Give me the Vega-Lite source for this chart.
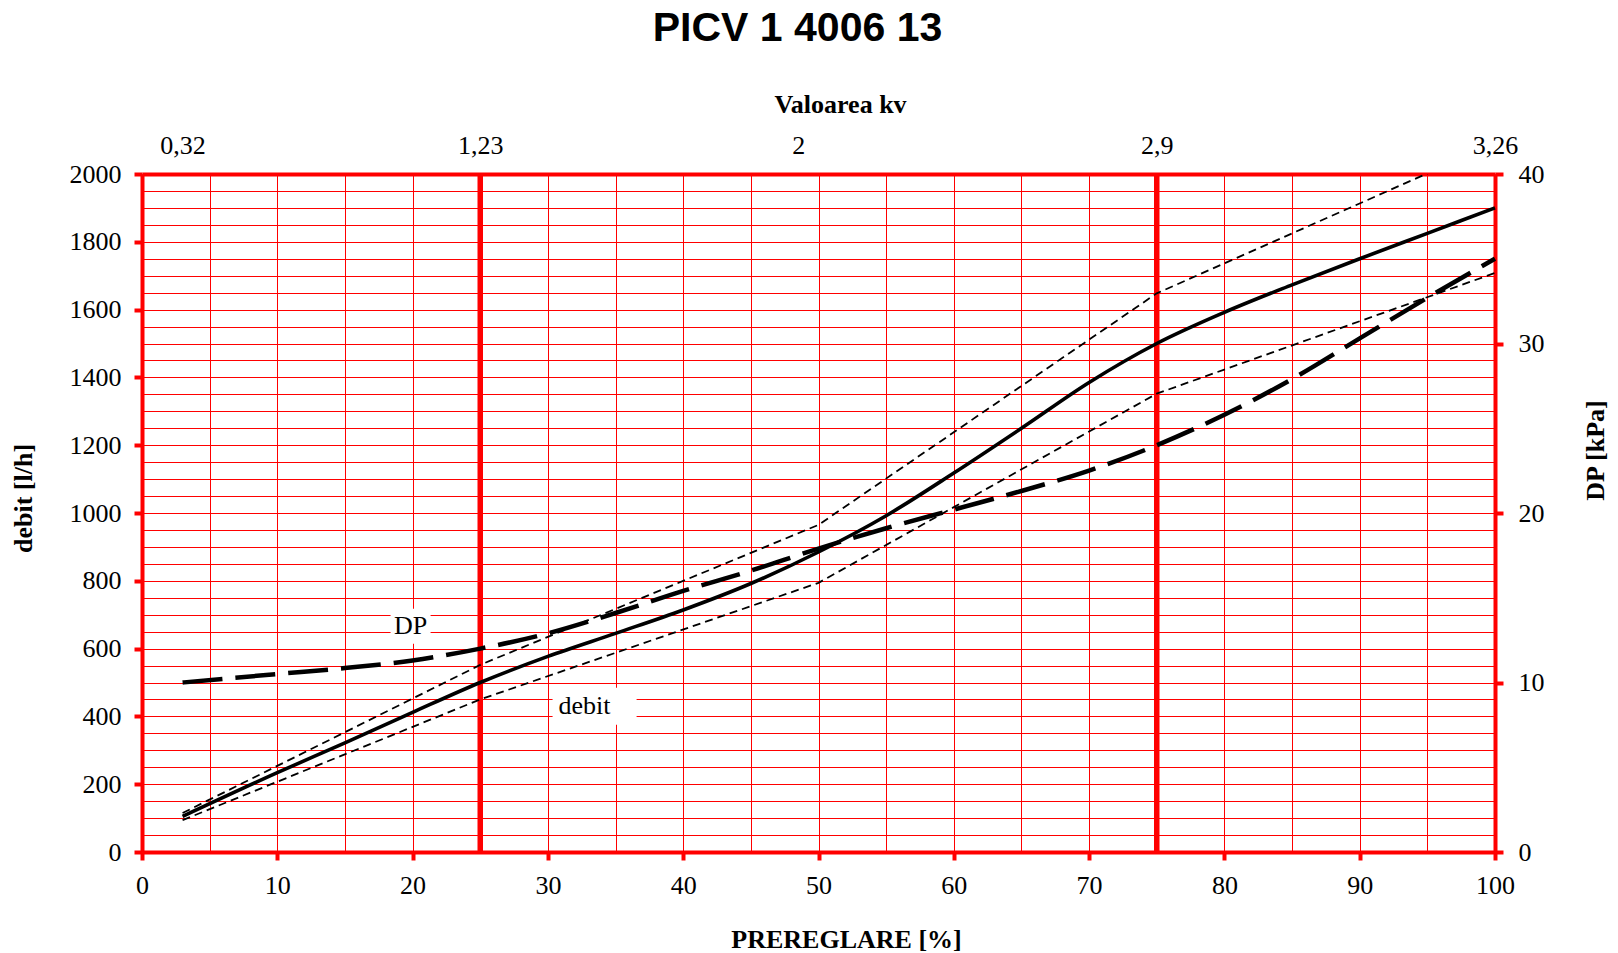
{
  "$schema": "https://vega.github.io/schema/vega-lite/v6.json",
  "width": 1353,
  "height": 678,
  "autosize": {"type": "none"},
  "padding": {"left": 142, "top": 174, "right": 123, "bottom": 101},
  "background": "white",
  "config": {
    "view": {"stroke": null},
    "font": "Liberation Serif",
    "axis": {
      "labelFont": "Liberation Serif",
      "labelFontSize": 26,
      "labelColor": "black",
      "labelOverlap": false,
      "labelFlush": false,
      "labelBound": false,
      "titleFont": "Liberation Serif",
      "titleFontSize": 26,
      "titleFontWeight": "bold",
      "titleColor": "black",
      "domainColor": "#ff0000",
      "domainWidth": 4,
      "tickColor": "#ff0000",
      "tickWidth": 4,
      "tickSize": 8
    }
  },
  "datasets": {
    "debit": [
      {"p": 3, "q": 105}, {"p": 10, "q": 234}, {"p": 15, "q": 322}, {"p": 20, "q": 412},
      {"p": 25, "q": 500}, {"p": 30, "q": 577}, {"p": 35, "q": 645}, {"p": 40, "q": 714},
      {"p": 45, "q": 792}, {"p": 50, "q": 885}, {"p": 55, "q": 992}, {"p": 60, "q": 1118},
      {"p": 65, "q": 1250}, {"p": 70, "q": 1385}, {"p": 75, "q": 1500}, {"p": 80, "q": 1592},
      {"p": 85, "q": 1673}, {"p": 90, "q": 1750}, {"p": 95, "q": 1825}, {"p": 100, "q": 1900}
    ],
    "tolerance": [
      {"band": "max", "p": 3, "q": 115}, {"band": "max", "p": 25, "q": 552},
      {"band": "max", "p": 50, "q": 965}, {"band": "max", "p": 75, "q": 1648},
      {"band": "max", "p": 100, "q": 2090},
      {"band": "min", "p": 3, "q": 94}, {"band": "min", "p": 25, "q": 450},
      {"band": "min", "p": 50, "q": 794}, {"band": "min", "p": 75, "q": 1352},
      {"band": "min", "p": 100, "q": 1708}
    ],
    "dp": [
      {"p": 3, "dp": 10.0}, {"p": 10, "dp": 10.5}, {"p": 15, "dp": 10.85}, {"p": 20, "dp": 11.3},
      {"p": 25, "dp": 12.0}, {"p": 30, "dp": 12.9}, {"p": 35, "dp": 14.1}, {"p": 40, "dp": 15.4},
      {"p": 45, "dp": 16.6}, {"p": 50, "dp": 17.9}, {"p": 55, "dp": 19.1}, {"p": 60, "dp": 20.2},
      {"p": 65, "dp": 21.3}, {"p": 70, "dp": 22.5}, {"p": 75, "dp": 24.0}, {"p": 80, "dp": 25.8},
      {"p": 85, "dp": 27.9}, {"p": 90, "dp": 30.3}, {"p": 95, "dp": 32.7}, {"p": 100, "dp": 35.0}
    ],
    "markers": [{"p": 25}, {"p": 75}],
    "labels": [
      {"label": "DP", "p": 19.85, "q": 666},
      {"label": "debit", "p": 33.45, "q": 430}
    ]
  },
  "layer": [
    {
      "data": {"name": "markers"},
      "mark": {"type": "rule", "color": "#ff0000", "strokeWidth": 5.5},
      "encoding": {
        "x": {
          "field": "p", "type": "quantitative",
          "scale": {"domain": [0, 100], "nice": false, "zero": false},
          "axis": {
            "orient": "top",
            "values": [3, 25, 48.5, 75, 100],
            "labelExpr": "datum.value === 3 ? '0,32' : datum.value === 25 ? '1,23' : datum.value === 48.5 ? '2' : datum.value === 75 ? '2,9' : '3,26'",
            "ticks": false,
            "tickSize": 0,
            "grid": false,
            "labelPadding": 21,
            "labelBaseline": "alphabetic",
            "title": "Valoarea kv",
            "titleX": 698,
            "titleY": -62,
            "titleBaseline": "alphabetic",
            "titleAlign": "center"
          }
        }
      }
    },
    {
      "data": {"name": "labels"},
      "transform": [{"filter": "datum.label === 'DP'"}],
      "mark": {"type": "rect", "color": "white", "width": 40, "height": 35},
      "encoding": {
        "x": {
          "field": "p", "type": "quantitative",
          "axis": {
            "orient": "top",
            "domain": false,
            "ticks": false,
            "labels": false,
            "grid": false,
            "title": "PICV 1 4006 13",
            "titleFont": "Liberation Sans",
            "titleFontSize": 41,
            "titleFontWeight": "bold",
            "titleX": 655,
            "titleY": -134,
            "titleBaseline": "alphabetic",
            "titleAlign": "center"
          }
        },
        "y": {"field": "q", "type": "quantitative", "scale": {"domain": [0, 2000], "nice": false}, "axis": null}
      }
    },
    {
      "data": {"name": "labels"},
      "transform": [{"filter": "datum.label === 'debit'"}],
      "mark": {"type": "rect", "color": "white", "width": 84, "height": 37},
      "encoding": {
        "x": {"field": "p", "type": "quantitative", "axis": null},
        "y": {"field": "q", "type": "quantitative", "scale": {"domain": [0, 2000], "nice": false}, "axis": null}
      }
    },
    {
      "data": {"name": "labels"},
      "transform": [{"filter": "datum.label === 'DP'"}],
      "mark": {"type": "text", "font": "Liberation Serif", "fontSize": 26, "color": "black", "baseline": "middle", "align": "center"},
      "encoding": {
        "x": {"field": "p", "type": "quantitative", "axis": null},
        "y": {"field": "q", "type": "quantitative", "scale": {"domain": [0, 2000], "nice": false}, "axis": null},
        "text": {"field": "label"}
      }
    },
    {
      "data": {"name": "labels"},
      "transform": [{"filter": "datum.label === 'debit'"}],
      "mark": {"type": "text", "font": "Liberation Serif", "fontSize": 26, "color": "black", "baseline": "middle", "align": "center", "dx": -10},
      "encoding": {
        "x": {"field": "p", "type": "quantitative", "axis": null},
        "y": {"field": "q", "type": "quantitative", "scale": {"domain": [0, 2000], "nice": false}, "axis": null},
        "text": {"field": "label"}
      }
    },
    {
      "data": {"name": "tolerance"},
      "mark": {"type": "line", "color": "black", "strokeWidth": 1.8, "strokeDash": [8, 5], "clip": true},
      "encoding": {
        "x": {"field": "p", "type": "quantitative", "axis": null},
        "y": {"field": "q", "type": "quantitative", "scale": {"domain": [0, 2000], "nice": false}, "axis": null},
        "detail": {"field": "band"}
      }
    },
    {
      "data": {"name": "dp"},
      "mark": {"type": "line", "color": "black", "strokeWidth": 4.5, "strokeDash": [40, 13], "interpolate": "monotone"},
      "encoding": {
        "x": {"field": "p", "type": "quantitative", "axis": null},
        "y": {
          "field": "dp", "type": "quantitative",
          "scale": {"domain": [0, 40], "nice": false},
          "axis": {
            "orient": "right",
            "values": [0, 10, 20, 30, 40],
            "grid": false,
            "labelPadding": 15,
            "title": "DP [kPa]",
            "titleAngle": 270,
            "titleX": 108,
            "titleY": 276,
            "titleBaseline": "alphabetic",
            "titleAlign": "center"
          }
        }
      }
    },
    {
      "data": {"name": "debit"},
      "mark": {"type": "line", "color": "black", "strokeWidth": 3.6, "interpolate": "monotone"},
      "encoding": {
        "x": {
          "field": "p", "type": "quantitative",
          "axis": {
            "orient": "bottom",
            "values": [0, 5, 10, 15, 20, 25, 30, 35, 40, 45, 50, 55, 60, 65, 70, 75, 80, 85, 90, 95, 100],
            "labelExpr": "datum.value % 10 === 0 ? datum.value : ''",
            "grid": true,
            "gridColor": "#ff0000",
            "gridWidth": 1,
            "gridOpacity": 1,
            "tickOpacity": {"condition": {"test": "datum.value % 10 === 0", "value": 1}, "value": 0},
            "labelPadding": 12,
            "title": "PREREGLARE [%]",
            "titleX": 704,
            "titleY": 95,
            "titleBaseline": "alphabetic",
            "titleAlign": "center"
          }
        },
        "y": {
          "field": "q", "type": "quantitative",
          "scale": {"domain": [0, 2000], "nice": false},
          "axis": {
            "orient": "left",
            "values": [0, 50, 100, 150, 200, 250, 300, 350, 400, 450, 500, 550, 600, 650, 700, 750, 800, 850, 900, 950, 1000, 1050, 1100, 1150, 1200, 1250, 1300, 1350, 1400, 1450, 1500, 1550, 1600, 1650, 1700, 1750, 1800, 1850, 1900, 1950, 2000],
            "labelExpr": "datum.value % 200 === 0 ? datum.value : ''",
            "grid": true,
            "gridColor": "#ff0000",
            "gridWidth": 1,
            "gridOpacity": 1,
            "tickOpacity": {"condition": {"test": "datum.value % 200 === 0", "value": 1}, "value": 0},
            "labelPadding": 13,
            "title": "debit [l/h]",
            "titleAngle": 270,
            "titleX": -111,
            "titleY": 324,
            "titleBaseline": "alphabetic",
            "titleAlign": "center"
          }
        }
      }
    }
  ],
  "resolve": {"scale": {"y": "independent"}, "axis": {"x": "independent"}}
}
